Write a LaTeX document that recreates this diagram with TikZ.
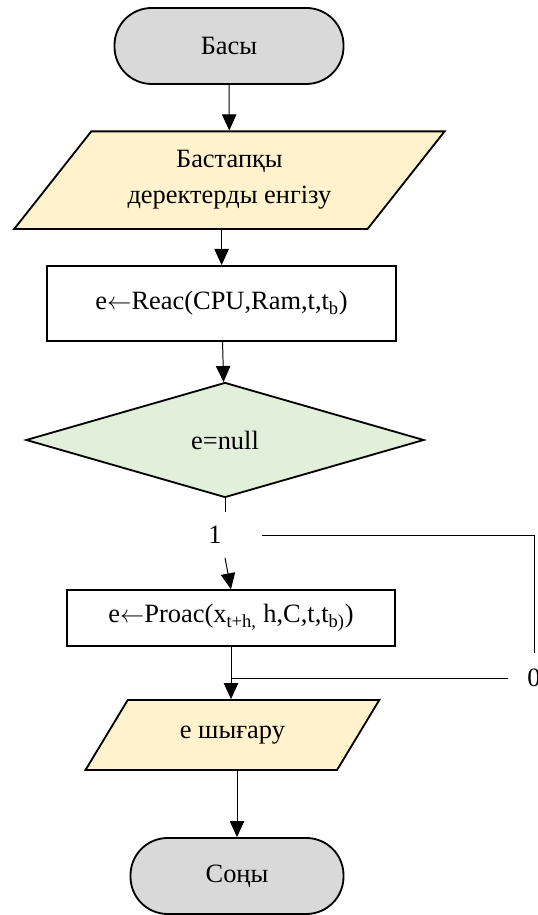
\documentclass[tikz,border=0pt]{standalone}
\usepackage{fontspec}
\setmainfont{Liberation Serif}
\usepackage{xcolor}
\usepackage{tikz}
\usetikzlibrary{shapes.geometric,arrows.meta,positioning}

\definecolor{termgray}{HTML}{D9D9D9}
\definecolor{ioyellow}{HTML}{FFF2CC}
\definecolor{condgreen}{HTML}{E2EFDA}

\begin{document}
\begin{tikzpicture}[
        font=\fontsize{18.8}{25.6}\selectfont,
        term/.style={draw, line width=1.3pt, fill=termgray, rounded corners=0.93cm, minimum height=1.9cm},
        io/.style={draw, line width=1.3pt, fill=ioyellow, trapezium, trapezium stretches=true, align=center},
        proc/.style={draw, line width=1.3pt, fill=white, rectangle},
        cond/.style={draw, line width=1.3pt, fill=condgreen, diamond, inner sep=0pt},
        lbl/.style={inner sep=0pt},
        arr/.style={-{Triangle[width=0.36cm,length=0.4cm]}, line width=0.7pt},
        lnk/.style={line width=0.7pt}
    ]
        \useasboundingbox (0,0) rectangle (13.425,22.875);

        % blocks, top to bottom
        \node[term, minimum width=5.725cm] (start) at (5.725,21.725) {Басы};
        \node[io, trapezium left angle=49, trapezium right angle=131,
              minimum width=10.78cm, minimum height=2.44cm] (input) at (5.735,18.37)
              {Бастапқы\\деректерды енгізу};
        \node[proc, minimum width=8.73cm, minimum height=1.875cm] (reac) at (5.54,15.29)
              {e$\leftarrow$Reac(CPU,Ram,t,t\textsubscript{b})};
        \node[cond, minimum width=9.95cm, minimum height=2.875cm] (check) at (5.625,11.875) {e=null};
        \node[lbl, minimum width=2.35cm, minimum height=1.125cm] (lbl1) at (5.375,9.5) {1};
        \node[proc, minimum width=8.2cm, minimum height=1.39cm] (proac) at (5.775,7.425)
              {e$\leftarrow$Proac(x\textsubscript{t+h,} h,C,t,t\textsubscript{b)})};
        \node[lbl, minimum width=1.3cm, minimum height=1.25cm] (lbl0) at (13.35,5.925) {0};
        \node[io, trapezium left angle=50, trapezium right angle=130,
              minimum width=7.35cm, minimum height=1.75cm] (output) at (5.81,4.5) {e шығару};
        \node[term, minimum width=5.325cm] (stop) at (5.925,0.975) {Соңы};

        % connectors
        \draw[arr] (start) -- (input);
        \draw[arr] (input.south -| reac.north) -- (reac.north);
        \draw[arr] (reac) -- (check);
        \draw[lnk] (check.south) -- (check.south |- lbl1.north);
        \draw[arr] (check.south |- lbl1.south) -- (proac.north);
        \draw[lnk] (lbl1.east) -| (lbl0.north);
        \draw[lnk] (lbl0.west) -- (lbl0.west -| proac.south);
        \draw[arr] (proac.south) -- (proac.south |- output.north);
        \draw[arr] (stop.north |- output.south) -- (stop.north);
    \end{tikzpicture}
\end{document}
